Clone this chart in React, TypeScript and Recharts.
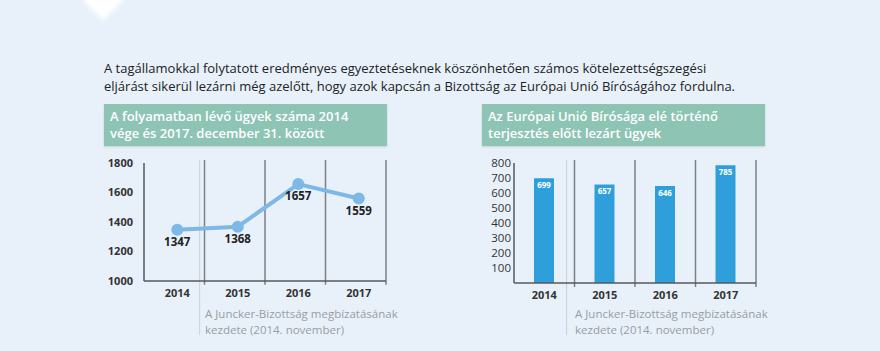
import React from 'react';
import {
  LineChart, Line, BarChart, Bar, XAxis, YAxis, ReferenceLine, LabelList,
} from 'recharts';

// years shown on both charts
const years = [2014, 2015, 2016, 2017];
// pending cases at year end
const pendingCases = [1347, 1368, 1657, 1559];
// cases closed before referral to the Court of Justice
const closedCases = [699, 657, 646, 785];

const leftTicks = [1000, 1200, 1400, 1600, 1800];
const rightTicks = [100, 200, 300, 400, 500, 600, 700, 800];

// start of the Juncker Commission (Nov 2014) as a fractional year
const junckerStart = 2014.37;

const introLines = [
  'A tagállamokkal folytatott eredményes egyeztetéseknek köszönhetően számos kötelezettségszegési',
  'eljárást sikerül lezárni még azelőtt, hogy azok kapcsán a Bizottság az Európai Unió Bíróságához fordulna.',
];
const leftTitle = ['A folyamatban lévő ügyek száma 2014', 'vége és 2017. december 31. között'];
const rightTitle = ['Az Európai Unió Bírósága elé történő', 'terjesztés előtt lezárt ügyek'];
const noteLines = ['A Juncker-Bizottság megbízatásának', 'kezdete (2014. november)'];

const FONT = '"Open Sans", "Noto Sans", sans-serif';
const BG = '#e8f1fa';
const TEAL = '#8ec4b4';
const GRID = '#7d7f82';

const lineData = years.map((year, i) => ({ year, value: pendingCases[i] }));
const barData = years.map((year, i) => ({ year, value: closedCases[i] }));

// separators between the year columns
const separators = years.map(y => y + 0.45);

const TitleBox: React.FC<{ lines: string[]; left: number }> = ({ lines, left }) => (
  <div
    style={{
      position: 'absolute', left, top: 104, width: 283, height: 42,
      background: TEAL, color: '#fff', fontSize: 13, fontWeight: 600,
      lineHeight: '17px', padding: '4px 6px', boxSizing: 'border-box',
      boxShadow: '0 1px 2px rgba(0,0,0,0.15)',
    }}
  >
    {lines.map(l => <div key={l}>{l}</div>)}
  </div>
);

const Note: React.FC<{ left: number }> = ({ left }) => (
  <div
    style={{
      position: 'absolute', left, top: 306, color: '#9a9c9f',
      fontSize: 11.5, lineHeight: '16px',
    }}
  >
    {noteLines.map(l => <div key={l}>{l}</div>)}
  </div>
);

export default function App() {
  return (
    <div
      style={{
        position: 'fixed', left: 0, top: 0, width: 880, height: 351,
        background: BG, overflow: 'hidden', fontFamily: FONT,
      }}
    >
      {/* white decorative shape at the top */}
      <div
        style={{
          position: 'absolute', left: 88, top: -16, width: 30, height: 30,
          background: '#fff', transform: 'rotate(45deg)', filter: 'blur(2px)',
        }}
      />

      <div
        style={{
          position: 'absolute', left: 104, top: 59, fontSize: 13,
          lineHeight: '18px', color: '#222',
        }}
      >
        {introLines.map(l => <div key={l}>{l}</div>)}
      </div>

      <TitleBox lines={leftTitle} left={104} />
      <TitleBox lines={rightTitle} left={482} />

      <div style={{ position: 'absolute', left: 104, top: 150 }}>
        <LineChart
          width={290}
          height={200}
          data={lineData}
          margin={{ top: 13, right: 8, bottom: 39, left: 0 }}
        >
          <XAxis
            dataKey="year"
            type="number"
            domain={[2013.45, 2017.45]}
            ticks={years}
            interval={0}
            allowDataOverflow
            tickLine={false}
            axisLine={{ stroke: '#55585c', strokeWidth: 1.5 }}
            tick={{ fill: '#333', fontSize: 11, fontWeight: 700, fontFamily: FONT }}
            height={30}
          />
          <YAxis
            domain={[1000, 1800]}
            ticks={leftTicks}
            interval={0}
            width={40}
            tickLine={false}
            tickSize={6}
            tickMargin={5}
            axisLine={{ stroke: '#55585c', strokeWidth: 1.5 }}
            tick={{ fill: '#333', fontSize: 11, fontWeight: 700, fontFamily: FONT }}
          />
          <ReferenceLine
            segment={[{ x: junckerStart, y: 1820 }, { x: junckerStart, y: 634 }]}
            stroke="#c9d0d6"
            strokeWidth={1}
            ifOverflow="visible"
          />
          {separators.map(s => (
            <ReferenceLine
              key={s}
              segment={[{ x: s, y: 1820 }, { x: s, y: 975 }]}
              stroke={GRID}
              strokeWidth={1.5}
              ifOverflow="visible"
            />
          ))}
          <Line
            dataKey="value"
            stroke="#7db8e6"
            strokeWidth={4}
            dot={{ r: 6, fill: '#7db8e6', stroke: 'none' }}
            isAnimationActive={false}
          >
            <LabelList
              dataKey="value"
              position="bottom"
              offset={8}
              style={{ fill: '#222', fontSize: 11.5, fontWeight: 700, fontFamily: FONT }}
            />
          </Line>
        </LineChart>
      </div>

      <div style={{ position: 'absolute', left: 474, top: 150 }}>
        <BarChart
          width={290}
          height={200}
          data={barData}
          margin={{ top: 13, right: 8, bottom: 37, left: 0 }}
        >
          <XAxis
            dataKey="year"
            type="number"
            domain={[2013.5, 2017.5]}
            ticks={years}
            interval={0}
            allowDataOverflow
            tickLine={false}
            axisLine={{ stroke: '#55585c', strokeWidth: 1.5 }}
            tick={{ fill: '#333', fontSize: 11, fontWeight: 700, fontFamily: FONT }}
            height={30}
          />
          <YAxis
            domain={[0, 800]}
            ticks={rightTicks}
            interval={0}
            width={40}
            tickLine={false}
            tickSize={0}
            tickMargin={3}
            axisLine={{ stroke: '#55585c', strokeWidth: 1.5 }}
            tick={{ fill: '#333', fontSize: 11.5, fontFamily: FONT }}
          />
          <ReferenceLine
            segment={[{ x: junckerStart, y: 820 }, { x: junckerStart, y: -347 }]}
            stroke="#c9d0d6"
            strokeWidth={1}
            ifOverflow="visible"
          />
          {years.map(y => y + 0.5).map(s => (
            <ReferenceLine
              key={s}
              segment={[{ x: s, y: 820 }, { x: s, y: -27 }]}
              stroke={GRID}
              strokeWidth={1.5}
              ifOverflow="visible"
            />
          ))}
          <Bar dataKey="value" fill="#2f9fdc" barSize={20} isAnimationActive={false}>
            <LabelList
              dataKey="value"
              position="insideTop"
              offset={4}
              style={{ fill: '#fff', fontSize: 8, fontWeight: 700, fontFamily: FONT }}
            />
          </Bar>
        </BarChart>
      </div>

      <Note left={205} />
      <Note left={575} />
    </div>
  );
}
